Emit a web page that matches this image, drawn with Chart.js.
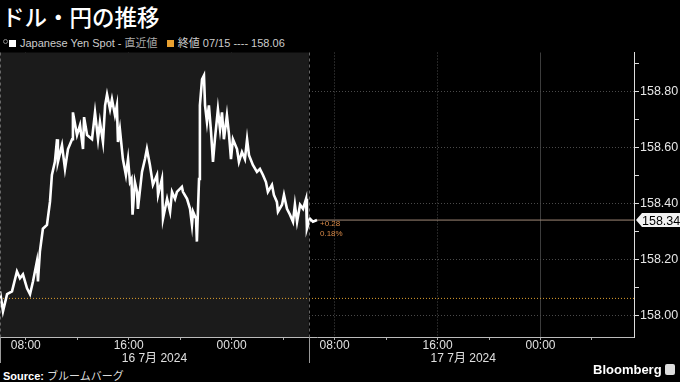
<!DOCTYPE html>
<html>
<head>
<meta charset="utf-8">
<script src="https://cdn.jsdelivr.net/npm/chart.js@4.4.1/dist/chart.umd.min.js"></script>
<style>
html, body { margin: 0; padding: 0; background: #000; width: 680px; height: 382px; overflow: hidden; }
body { font-family: "Liberation Sans", Arial, sans-serif; color: #ddd; position: relative; }
#title { position: absolute; left: 2px; top: 0px; font: 500 22.5px "Noto Sans CJK JP", sans-serif; color: #fff; }
#legend { position: absolute; left: 3px; top: 34px; font-size: 11px; color: #ccc; white-space: nowrap; }
#legend .pin { display: inline-block; width: 3px; height: 3px; border: 1px solid #888; border-radius: 3px; vertical-align: 3px; margin-right: 1px; }
#legend .sq { display: inline-block; width: 7px; height: 7px; margin-right: 4px; vertical-align: 0px; }
#legend .jp { font-family: "Noto Sans CJK JP", sans-serif; color: #aaa; }
#wrap { position: absolute; left: 0; top: 44px; width: 680px; height: 322px; }
#source { position: absolute; left: 3px; top: 367px; font-size: 11px; color: #ddd; }
#source b { color: #fff; }
#source span { font-family: "Noto Sans CJK JP", sans-serif; }
#logo { position: absolute; left: 593px; top: 362px; font: bold 13px "Liberation Sans", Arial, sans-serif; color: #fff; }
#logo i { display: inline-block; width: 10px; height: 11px; background: #ddd; border-radius: 2px; vertical-align: -1px; margin-left: 3px; }
</style>
</head>
<body>
<div id="title">ドル・円の推移</div>
<div id="legend"><span class="pin"></span><span class="sq" style="background:#fff"></span>Japanese Yen Spot - <span class="jp">直近値</span>&nbsp;&nbsp;&nbsp;<span class="sq" style="background:#e8a030"></span><span class="jp" style="color:#ccc">終値</span> 07/15 ---- 158.06</div>
<div id="wrap"><canvas id="chart"></canvas></div>
<div id="source"><b>Source:</b> <span>ブルームバーグ</span></div>
<div id="logo">Bloomberg<i></i></div>

<script>
// minuter efter 06:00 (JST) 16 juli 2024
const times = [0, 14, 33, 56, 79, 93, 107, 126, 140, 154, 172, 177, 186, 200, 219, 233, 242, 256, 266, 270,
  289, 303, 317, 336, 340, 359, 373, 387, 392, 406, 429, 443, 457, 466, 480, 490, 499, 513, 522, 536,
  545, 550, 559, 573, 587, 597, 606, 613, 618, 629, 639, 643, 662, 676, 685, 699, 713, 732, 737, 755,
  760, 779, 793, 802, 816, 825, 848, 853, 872, 886, 895, 900, 914, 918, 928, 932, 942, 951, 956, 965,
  974, 984, 993, 1002, 1016, 1026, 1035, 1044, 1058, 1068, 1077, 1086, 1105, 1114, 1128, 1142, 1152, 1161, 1179, 1198,
  1212, 1226, 1240, 1249, 1268, 1277, 1291, 1296, 1315, 1324, 1338, 1352, 1366, 1375, 1385, 1399, 1413, 1427, 1431, 1445,
  1459, 1478];
const prices = [158.085, 158.014, 158.075, 158.085, 158.156, 158.132, 158.146, 158.096, 158.075, 158.121, 158.192, 158.121, 158.227, 158.309, 158.323, 158.405, 158.501, 158.548, 158.629, 158.548,
  158.608, 158.523, 158.594, 158.629, 158.725, 158.644, 158.679, 158.594, 158.708, 158.644, 158.629, 158.725, 158.629, 158.690, 158.619, 158.750, 158.789, 158.736, 158.772, 158.715,
  158.750, 158.619, 158.665, 158.558, 158.501, 158.558, 158.476, 158.487, 158.359, 158.476, 158.441, 158.380, 158.512, 158.558, 158.594, 158.537, 158.466, 158.501, 158.430, 158.487,
  158.345, 158.416, 158.370, 158.441, 158.416, 158.441, 158.459, 158.441, 158.416, 158.380, 158.323, 158.370, 158.345, 158.263, 158.487, 158.750, 158.843, 158.857, 158.750, 158.690,
  158.750, 158.654, 158.548, 158.629, 158.736, 158.665, 158.725, 158.629, 158.715, 158.644, 158.558, 158.629, 158.594, 158.548, 158.583, 158.558, 158.629, 158.572, 158.537, 158.512,
  158.523, 158.501, 158.476, 158.441, 158.466, 158.430, 158.405, 158.370, 158.395, 158.430, 158.380, 158.359, 158.334, 158.395, 158.334, 158.395, 158.380, 158.416, 158.309, 158.345,
  158.334, 158.340];
const prevClose = 158.06;

// axlar
const xTickTimes = [120, 600, 1080, 1560, 2040, 2520];
const xTickLabels = ['08:00', '16:00', '00:00', '08:00', '16:00', '00:00'];
const xMinorTimes = [360, 840, 1320, 1800, 2280, 2760];
const dayTimes = [720, 2160];
const dayLabels = ['16 7月 2024', '17 7月 2024'];
const dayBreaks = [0, 1440];
const yTicks = [158.0, 158.2, 158.4, 158.6, 158.8];
const yMinorTicks = [158.1, 158.3, 158.5, 158.7, 158.9];
const xMax = 2956;

const lastT = times[times.length - 1];
const lastP = prices[prices.length - 1];

//bakgrund för första dagen + dagsavgränsare
const dayPlugin = {
    id: 'days',
    beforeDatasetsDraw(chart) {
        const {ctx, chartArea, scales: {x}} = chart;
        ctx.save();
        ctx.fillStyle = '#1b1b1b';
        const a = x.getPixelForValue(dayBreaks[0]);
        const b = x.getPixelForValue(dayBreaks[1]);
        ctx.fillRect(a, chartArea.top, b - a, chartArea.bottom - chartArea.top);
        ctx.restore();
    },
    afterDraw(chart) {
        const {ctx, chartArea, scales: {x, y}} = chart;
        ctx.save();
        dayBreaks.forEach(t => {
            const px = Math.round(x.getPixelForValue(t)) + 0.5;
            ctx.strokeStyle = '#666';
            ctx.lineWidth = 1;
            ctx.setLineDash([3, 3]);
            ctx.beginPath();
            ctx.moveTo(px, chartArea.top);
            ctx.lineTo(px, chartArea.bottom);
            ctx.stroke();
            ctx.setLineDash([]);
            ctx.strokeStyle = '#999';
            ctx.beginPath();
            ctx.moveTo(px, chartArea.bottom);
            ctx.lineTo(px, chartArea.bottom + 26);
            ctx.stroke();
        });

        //senaste värde
        const py = y.getPixelForValue(lastP);
        const ax = chartArea.right;
        ctx.fillStyle = '#f2f2f2';
        ctx.beginPath();
        ctx.moveTo(ax + 2, py);
        ctx.lineTo(ax + 8, py - 7);
        ctx.lineTo(680, py - 7);
        ctx.lineTo(680, py + 7);
        ctx.lineTo(ax + 8, py + 7);
        ctx.closePath();
        ctx.fill();
        ctx.fillStyle = '#000';
        ctx.font = '12.5px "Liberation Sans", Arial, sans-serif';
        ctx.textBaseline = 'middle';
        ctx.textAlign = 'left';
        ctx.fillText(lastP.toFixed(2), ax + 8, py + 1);

        //förändring mot föregående stängning
        const diff = lastP - prevClose;
        const pct = diff / prevClose * 100;
        const lx = x.getPixelForValue(lastT) + 3;
        ctx.fillStyle = '#d98a48';
        ctx.font = '8px "Liberation Sans", Arial, sans-serif';
        ctx.fillText((diff >= 0 ? '+' : '') + diff.toFixed(2), lx, py + 4);
        ctx.fillText(pct.toFixed(2) + '%', lx, py + 14);
        ctx.restore();
    }
};

const isMidnight = v => xTickLabels[xTickTimes.indexOf(v)] === '00:00';

new Chart(document.getElementById('chart'), {
    type: 'line',
    data: {
        datasets: [{
            label: 'Japanese Yen Spot',
            data: times.map((t, i) => ({x: t, y: prices[i]})),
            borderColor: '#ffffff',
            borderWidth: 2.6,
            pointRadius: 0,
            tension: 0
        }, {
            label: '終値',
            data: [{x: 0, y: prevClose}, {x: xMax, y: prevClose}],
            borderColor: '#e0a030',
            borderWidth: 1,
            borderDash: [1, 2],
            pointRadius: 0
        }, {
            label: 'last',
            data: [{x: lastT, y: lastP}, {x: xMax, y: lastP}],
            borderColor: '#a08878',
            borderWidth: 1,
            pointRadius: 0
        }]
    },
    options: {
        responsive: true,
        maintainAspectRatio: false,
        animation: false,
        layout: { padding: { top: 5, left: 0, right: 0, bottom: 0 } },
        plugins: { legend: { display: false }, tooltip: { enabled: false } },
        scales: {
            x: {
                type: 'linear',
                position: 'bottom',
                min: 0,
                max: xMax,
                afterBuildTicks: s => {
                    s.ticks = xTickTimes.concat(xMinorTimes).sort((a, b) => a - b).map(v => ({value: v}));
                },
                afterFit: s => { s.height = 15; },
                ticks: {
                    autoSkip: false,
                    maxRotation: 0,
                    color: '#e0e0e0',
                    padding: 0,
                    font: { family: '"Liberation Sans", Arial, sans-serif', size: 12, lineHeight: 1 },
                    callback: v => {
                        const i = xTickTimes.indexOf(v);
                        return i >= 0 ? xTickLabels[i] : '';
                    }
                },
                grid: {
                    color: ctx => (ctx.tick && xTickTimes.includes(ctx.tick.value)) ? (isMidnight(ctx.tick.value) ? '#3c3c3c' : '#4a4a4a') : 'rgba(0,0,0,0)',
                    tickColor: '#aaa',
                    tickLength: 3
                },
                border: {
                    color: '#bbb',
                    width: 1,
                    dash: ctx => (ctx.tick && isMidnight(ctx.tick.value)) ? [] : [1, 2]
                }
            },
            x2: {
                type: 'linear',
                position: 'bottom',
                weight: 1,
                min: 0,
                max: xMax,
                afterBuildTicks: s => { s.ticks = dayTimes.map(v => ({value: v})); },
                afterFit: s => { s.height = 14; },
                ticks: {
                    autoSkip: false,
                    maxRotation: 0,
                    color: '#e0e0e0',
                    padding: 1,
                    font: { family: '"Liberation Sans", "Noto Sans CJK JP", sans-serif', size: 12, lineHeight: 1 },
                    callback: v => dayLabels[dayTimes.indexOf(v)]
                },
                grid: { display: false, drawTicks: false },
                border: { display: false }
            },
            y: {
                type: 'linear',
                position: 'right',
                min: 157.922,
                max: 158.939,
                afterBuildTicks: s => {
                    s.ticks = yTicks.concat(yMinorTicks).sort((a, b) => a - b).map(v => ({value: v}));
                },
                afterFit: s => { s.width = 46; },
                ticks: {
                    color: '#e6e6e6',
                    padding: 1,
                    font: { family: '"Liberation Sans", Arial, sans-serif', size: 12.5 },
                    callback: v => yTicks.some(t => Math.abs(t - v) < 1e-6) ? v.toFixed(2) : ''
                },
                grid: {
                    color: ctx => (ctx.tick && yTicks.some(t => Math.abs(t - ctx.tick.value) < 1e-6)) ? '#4a4a4a' : 'rgba(0,0,0,0)',
                    tickColor: '#ddd',
                    tickLength: 5
                },
                border: { color: '#ddd', width: 1, dash: [1, 2] }
            }
        }
    },
    plugins: [dayPlugin]
});
</script>
</body>
</html>
